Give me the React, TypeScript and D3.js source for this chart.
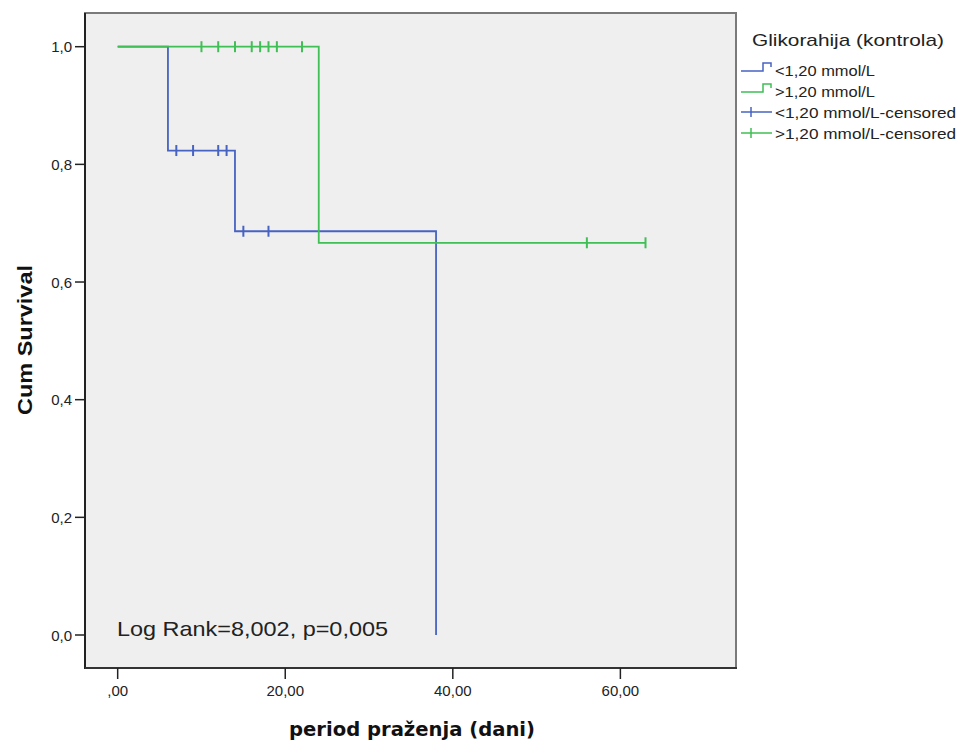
import React from 'react';
import * as d3 from 'd3';

// Kaplan-Meier steps
const lowTimes = [0, 6, 14, 38];
const lowSurvival = [1, 0.8235, 0.6863, 0];
const highTimes = [0, 24, 63];
const highSurvival = [1, 0.6667, 0.6667];
const lowCensored = [7, 9, 12, 13, 15, 18];
const highCensored = [10, 12, 14, 16, 17, 18, 19, 22, 56, 63];

const xTicks = [0, 20, 40, 60];
const yTicks = [0, 0.2, 0.4, 0.6, 0.8, 1.0];
const legendTitle = 'Glikorahija (kontrola)';
const legendLabels = ['<1,20 mmol/L', '>1,20 mmol/L', '<1,20 mmol/L-censored', '>1,20 mmol/L-censored'];
const statText = 'Log Rank=8,002, p=0,005';
const xTitle = 'period praženja (dani)';
const yTitle = 'Cum Survival';

const BLUE = '#4763c2';
const GREEN = '#3fbf55';
const FONT = '"Liberation Sans", Arial, sans-serif';

const W = 960;
const H = 742;
const frame = { left: 85, top: 13, right: 736, bottom: 668 };

const x = d3.scaleLinear().domain([-3.9, 73.8]).range([frame.left, frame.right]);
const y = d3.scaleLinear().domain([0, 1]).range([635, 46.7]);

const stepLine = d3
  .line<[number, number]>()
  .x(d => x(d[0]))
  .y(d => y(d[1]))
  .curve(d3.curveStepAfter);

const survAt = (times: number[], surv: number[], t: number) => surv[d3.bisectRight(times, t) - 1];

const xFmt = (d: number) => (d === 0 ? ',00' : d.toFixed(2).replace('.', ','));
const yFmt = (d: number) => d.toFixed(1).replace('.', ',');

const groups = [
  { times: lowTimes, surv: lowSurvival, censored: lowCensored, color: BLUE },
  { times: highTimes, surv: highSurvival, censored: highCensored, color: GREEN },
];

export default function App() {
  return (
    <svg
      width={W}
      height={H}
      style={{ position: 'absolute', left: 0, top: 0, background: '#fff' }}
      fontFamily={FONT}
    >
      {/* plot area */}
      <rect
        x={frame.left}
        y={frame.top}
        width={frame.right - frame.left}
        height={frame.bottom - frame.top}
        fill="#efefef"
        stroke="#7a7a7a"
        strokeWidth={2}
      />
      <line x1={frame.left} x2={frame.left} y1={frame.top} y2={frame.bottom + 1} stroke="#222" strokeWidth={2} />
      <line x1={frame.left} x2={frame.right + 1} y1={frame.bottom} y2={frame.bottom} stroke="#333" strokeWidth={2} />

      {/* survival curves */}
      {groups.map((g, i) => (
        <g key={i}>
          <path
            d={stepLine(g.times.map((t, j) => [t, g.surv[j]] as [number, number])) || ''}
            fill="none"
            stroke={g.color}
            strokeWidth={1.8}
          />
          {g.censored.map((t, j) => {
            const cx = x(t);
            const cy = y(survAt(g.times, g.surv, t));
            return <line key={j} x1={cx} x2={cx} y1={cy - 5.5} y2={cy + 5.5} stroke={g.color} strokeWidth={2} />;
          })}
        </g>
      ))}

      {/* y axis */}
      {yTicks.map(t => (
        <g key={t}>
          <line x1={75} x2={frame.left} y1={y(t)} y2={y(t)} stroke="#222" strokeWidth={1.5} />
          <text x={72} y={y(t) + 5.5} textAnchor="end" fontSize={15} fill="#222">
            {yFmt(t)}
          </text>
        </g>
      ))}

      {/* x axis */}
      {xTicks.map(t => (
        <g key={t}>
          <line x1={x(t)} x2={x(t)} y1={frame.bottom} y2={679} stroke="#222" strokeWidth={1.5} />
          <text x={x(t)} y={696} textAnchor="middle" fontSize={15} fill="#222">
            {xFmt(t)}
          </text>
        </g>
      ))}

      {/* titles */}
      <text
        x={412}
        y={736}
        textAnchor="middle"
        fontSize={19}
        fontWeight="bold"
        fontFamily='"DejaVu Sans Condensed", "DejaVu Sans", sans-serif'
        textLength={246}
        lengthAdjust="spacingAndGlyphs"
        fill="#111"
      >
        {xTitle}
      </text>
      <text
        transform="translate(32,340) rotate(-90)"
        textAnchor="middle"
        fontSize={20}
        fontWeight="bold"
        fontFamily='"Liberation Sans Narrow", "Arial Narrow", "Liberation Sans", sans-serif'
        textLength={150}
        lengthAdjust="spacingAndGlyphs"
        fill="#111"
      >
        {yTitle}
      </text>

      {/* statistic */}
      <text x={117} y={636} fontSize={21} fill="#222" textLength={271} lengthAdjust="spacingAndGlyphs">
        {statText}
      </text>

      {/* legend */}
      <text x={752} y={46} fontSize={17} fill="#222" textLength={192} lengthAdjust="spacingAndGlyphs">
        {legendTitle}
      </text>
      {legendLabels.map((label, i) => {
        const by = 76 + i * 21;
        const color = i % 2 === 0 ? BLUE : GREEN;
        const censored = i >= 2;
        return (
          <g key={label}>
            {censored ? (
              <g>
                <line x1={741} x2={772} y1={by - 6} y2={by - 6} stroke={color} strokeWidth={1.5} />
                <line x1={751} x2={751} y1={by - 11} y2={by - 1} stroke={color} strokeWidth={1.5} />
              </g>
            ) : (
              <path
                d={`M741,${by - 5}H763V${by - 13}H771V${by - 9}`}
                fill="none"
                stroke={color}
                strokeWidth={1.5}
              />
            )}
            <text
              x={775}
              y={by}
              fontSize={15}
              fill="#222"
              textLength={censored ? 181 : 100}
              lengthAdjust="spacingAndGlyphs"
            >
              {label}
            </text>
          </g>
        );
      })}
    </svg>
  );
}
